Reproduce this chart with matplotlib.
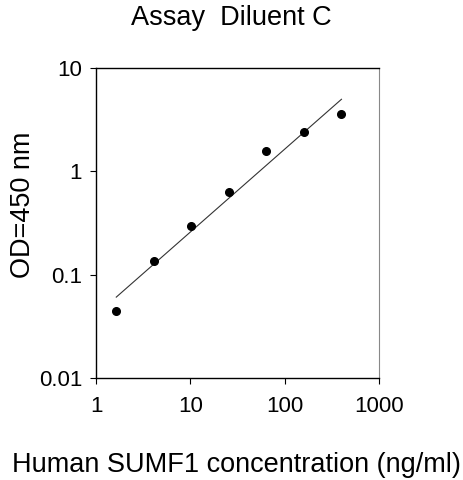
import numpy as np
import matplotlib
matplotlib.use("Agg")
import matplotlib.pyplot as plt
from matplotlib.ticker import FixedLocator, NullLocator, FixedFormatter

plt.rcParams['font.family'] = ['Liberation Sans', 'DejaVu Sans']

concentration = [1.64, 4.096, 10.24, 25.6, 64, 160, 400]
od450 = [0.0444, 0.136, 0.298, 0.625, 1.56, 2.40, 3.59]
x_ticks = [1, 10, 100, 1000]
x_tick_labels = ["1", "10", "100", "1000"]
y_ticks = [0.01, 0.1, 1, 10]
y_tick_labels = ["0.01", "0.1", "1", "10"]

fig = plt.figure(figsize=(4.63, 4.80), dpi=100)
ax = fig.add_axes([96/463, 1-378/480, (379-96)/463, (378-68)/480])

ax.set_xscale('log')
ax.set_yscale('log')
ax.set_xlim(1, 1000)
ax.set_ylim(0.01, 10)

# Power fit in log-log space
lx = np.log10(concentration)
ly = np.log10(od450)
slope, intercept = np.polyfit(lx, ly, 1)
xf = np.array([concentration[0], concentration[-1]])
yf = 10 ** (intercept + slope * np.log10(xf))
ax.plot(xf, yf, color='#333333', lw=0.8, zorder=2)

ax.plot(concentration, od450, 'o', color='black', markersize=5.5, zorder=3)

ax.xaxis.set_major_locator(FixedLocator(x_ticks))
ax.xaxis.set_major_formatter(FixedFormatter(x_tick_labels))
ax.yaxis.set_major_locator(FixedLocator(y_ticks))
ax.yaxis.set_major_formatter(FixedFormatter(y_tick_labels))
ax.xaxis.set_minor_locator(NullLocator())
ax.yaxis.set_minor_locator(NullLocator())

ax.tick_params(axis='both', direction='out', length=4, width=0.8, labelsize=16, colors='black')
ax.tick_params(axis='x', pad=9)
ax.tick_params(axis='y', pad=6)

for side in ['left', 'bottom', 'top']:
    ax.spines[side].set_color('black')
    ax.spines[side].set_linewidth(1.0)
ax.spines['right'].set_color('#888888')
ax.spines['right'].set_linewidth(0.8)

fig.text(231/463, 1-18/480, "Assay  Diluent C", ha='center', va='center', fontsize=19.5)
fig.text(236/463, 1-465/480, "Human SUMF1 concentration (ng/ml)", ha='center', va='center', fontsize=19.5)
fig.text(23/463, 1-205/480, "OD=450 nm", ha='center', va='center', rotation=90, fontsize=19.5)

fig.savefig('out.png', dpi=100)
